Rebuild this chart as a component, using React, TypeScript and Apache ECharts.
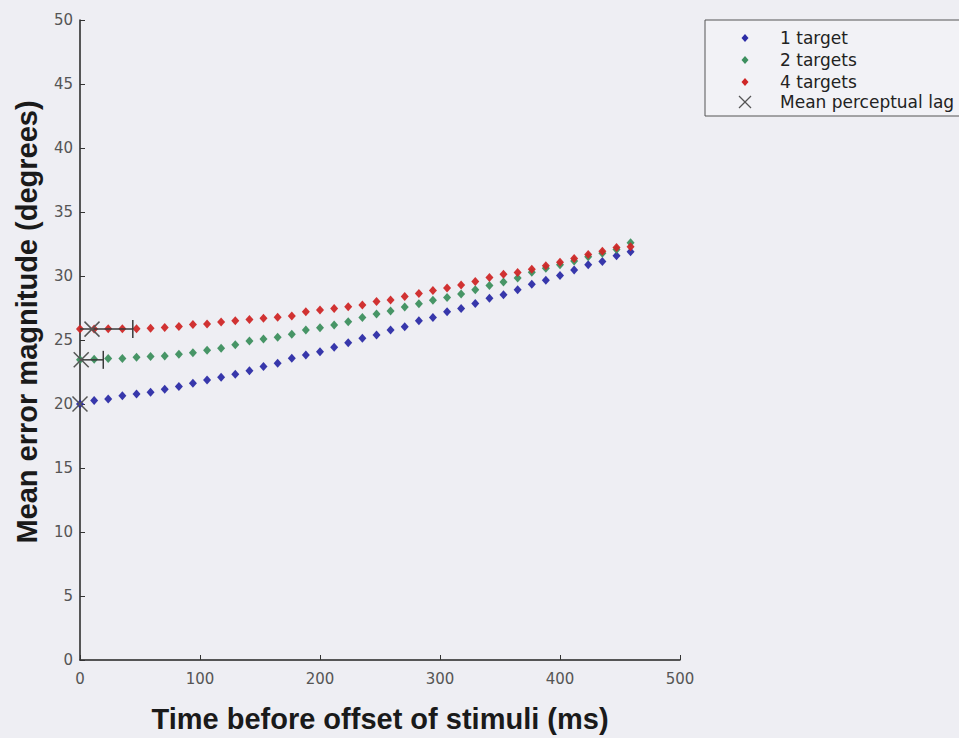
import React, { useEffect, useRef } from "react";
import * as echarts from "echarts";

// Sample times (ms before stimulus offset), one sample every 1/85 s
const times = [
  0, 11.8, 23.5, 35.3, 47.1, 58.8, 70.6, 82.4, 94.1, 105.9, 117.6, 129.4, 141.2,
  152.9, 164.7, 176.5, 188.2, 200, 211.8, 223.5, 235.3, 247.1, 258.8, 270.6,
  282.4, 294.1, 305.9, 317.6, 329.4, 341.2, 352.9, 364.7, 376.5, 388.2, 400,
  411.8, 423.5, 435.3, 447.1, 458.8,
];

// Mean error magnitude (degrees) per condition
const oneTarget = [
  20.0, 20.27, 20.4, 20.64, 20.79, 20.92, 21.16, 21.37, 21.63, 21.88, 22.09,
  22.33, 22.6, 22.93, 23.19, 23.57, 23.83, 24.09, 24.43, 24.79, 25.13, 25.39,
  25.78, 26.04, 26.5, 26.76, 27.2, 27.46, 27.85, 28.27, 28.53, 28.93, 29.35,
  29.67, 30.03, 30.47, 30.87, 31.13, 31.59, 31.9,
];
const twoTargets = [
  23.45, 23.5, 23.55, 23.55, 23.65, 23.72, 23.75, 23.88, 24.0, 24.2, 24.35,
  24.62, 24.92, 25.08, 25.21, 25.44, 25.78, 25.96, 26.17, 26.43, 26.75, 27.04,
  27.27, 27.57, 27.83, 28.11, 28.33, 28.6, 28.92, 29.25, 29.54, 29.85, 30.3,
  30.6, 30.88, 31.18, 31.5, 31.78, 32.08, 32.6,
];
const fourTargets = [
  25.85, 25.85, 25.87, 25.88, 25.88, 25.92, 25.98, 26.05, 26.22, 26.25, 26.4,
  26.5, 26.6, 26.69, 26.77, 26.87, 27.2, 27.34, 27.47, 27.6, 27.73, 28.0, 28.13,
  28.4, 28.63, 28.86, 29.06, 29.3, 29.57, 29.88, 30.13, 30.28, 30.52, 30.8,
  31.07, 31.36, 31.68, 31.93, 32.22, 32.28,
];

// Mean perceptual lag per condition (time, error at that time, +/- spread in ms)
const lagTimes = [0, 1, 10];
const lagValues = [20.0, 23.45, 25.85];
const lagSpread = [0, 18.4, 34];

const seriesNames = ["1 target", "2 targets", "4 targets"];
const lagName = "Mean perceptual lag";
const xTitle = "Time before offset of stimuli (ms)";
const yTitle = "Mean error magnitude (degrees)";
const colors = ["#2c2ca6", "#3d8f5e", "#cf2727"];

const xTicks = { min: 0, max: 500, interval: 100 };
const yTicks = { min: 0, max: 50, interval: 5 };

const pair = (ys: number[]) => times.map((t, i) => [t, ys[i]]);

export default function App() {
  const ref = useRef<HTMLDivElement>(null);

  useEffect(() => {
    document.body.style.margin = "0";
    const chart = echarts.init(ref.current!, undefined, { renderer: "svg" });

    const dataSets = [oneTarget, twoTargets, fourTargets];
    const lagData = lagTimes.map((t, i) => [t, lagValues[i], lagSpread[i]]);

    const legendRows = [38, 60, 82, 102];
    const legendIconX = 745;
    const legendTextX = 780;
    const legendFont = "17px 'DejaVu Sans'";
    const titleFont = "bold 29px 'Liberation Sans'";

    const graphics: any[] = [
      {
        type: "rect",
        shape: { x: 705, y: 20, width: 270, height: 96 },
        style: { fill: "#f2f2f6", stroke: "#555", lineWidth: 1 },
      },
    ];
    seriesNames.forEach((name, i) => {
      const cy = legendRows[i];
      graphics.push({
        type: "polygon",
        shape: {
          points: [
            [legendIconX, cy - 4],
            [legendIconX + 3.5, cy],
            [legendIconX, cy + 4],
            [legendIconX - 3.5, cy],
          ],
        },
        style: { fill: colors[i] },
      });
      graphics.push({
        type: "text",
        x: legendTextX,
        y: cy,
        style: { text: name, fill: "#222", font: legendFont, verticalAlign: "middle" },
      });
    });
    {
      const cy = legendRows[3];
      const s = 6;
      graphics.push(
        {
          type: "line",
          shape: { x1: legendIconX - s, y1: cy - s, x2: legendIconX + s, y2: cy + s },
          style: { stroke: "#555", lineWidth: 1.3 },
        },
        {
          type: "line",
          shape: { x1: legendIconX - s, y1: cy + s, x2: legendIconX + s, y2: cy - s },
          style: { stroke: "#555", lineWidth: 1.3 },
        },
        {
          type: "text",
          x: legendTextX,
          y: cy,
          style: { text: lagName, fill: "#222", font: legendFont, verticalAlign: "middle" },
        }
      );
    }
    // Rotated y-axis title
    graphics.push({
      type: "text",
      x: 27,
      y: 322,
      rotation: Math.PI / 2,
      style: {
        text: yTitle,
        fill: "#1a1a1a",
        font: titleFont,
        align: "center",
        verticalAlign: "middle",
      },
    });

    const option: any = {
      animation: false,
      backgroundColor: "#eeeef3",
      grid: { left: 80, right: 279, top: 20, bottom: 77 },
      xAxis: {
        type: "value",
        ...xTicks,
        name: xTitle,
        nameLocation: "middle",
        nameGap: 44,
        nameTextStyle: {
          fontFamily: "Liberation Sans",
          fontSize: 29,
          fontWeight: "bold",
          color: "#1a1a1a",
        },
        axisLine: { lineStyle: { color: "#222", width: 1.5 } },
        axisTick: { inside: true, length: 5, lineStyle: { color: "#333" } },
        axisLabel: {
          fontFamily: "DejaVu Sans",
          fontSize: 15,
          color: "#555",
          margin: 11,
        },
        splitLine: { show: false },
      },
      yAxis: {
        type: "value",
        ...yTicks,
        axisLine: { show: true, lineStyle: { color: "#222", width: 1.5 } },
        axisTick: { show: true, inside: true, length: 5, lineStyle: { color: "#333" } },
        axisLabel: {
          fontFamily: "DejaVu Sans",
          fontSize: 15,
          color: "#555",
          margin: 7,
        },
        splitLine: { show: false },
      },
      series: [
        ...dataSets.map((ys, i) => ({
          name: seriesNames[i],
          type: "scatter",
          symbol: "diamond",
          symbolSize: [8, 9],
          itemStyle: { color: colors[i], opacity: 0.95 },
          data: pair(ys),
          z: 2 + i,
        })),
        {
          name: lagName,
          type: "custom",
          z: 10,
          data: lagData,
          renderItem: (_params: any, api: any) => {
            const x = api.value(0);
            const y = api.value(1);
            const e = api.value(2);
            const c = api.coord([x, y]);
            const children: any[] = [];
            const stroke = { stroke: "#3a3a3a", lineWidth: 1.5 };
            if (e > 0) {
              const left = Math.max(0, x - e);
              const l = api.coord([left, y]);
              const r = api.coord([x + e, y]);
              children.push({
                type: "line",
                shape: { x1: l[0], y1: l[1], x2: r[0], y2: r[1] },
                style: stroke,
              });
              children.push({
                type: "line",
                shape: { x1: r[0], y1: r[1] - 9, x2: r[0], y2: r[1] + 9 },
                style: stroke,
              });
              if (x - e >= 0) {
                children.push({
                  type: "line",
                  shape: { x1: l[0], y1: l[1] - 9, x2: l[0], y2: l[1] + 9 },
                  style: stroke,
                });
              }
            }
            const s = 7.5;
            const xStyle = { stroke: "#555", lineWidth: 1.5 };
            children.push(
              {
                type: "line",
                shape: { x1: c[0] - s, y1: c[1] - s, x2: c[0] + s, y2: c[1] + s },
                style: xStyle,
              },
              {
                type: "line",
                shape: { x1: c[0] - s, y1: c[1] + s, x2: c[0] + s, y2: c[1] - s },
                style: xStyle,
              }
            );
            return { type: "group", children };
          },
        },
      ],
      graphic: graphics,
    };

    chart.setOption(option);
    return () => chart.dispose();
  }, []);

  return (
    <div ref={ref} style={{ width: 959, height: 738, background: "#eeeef3" }} />
  );
}
